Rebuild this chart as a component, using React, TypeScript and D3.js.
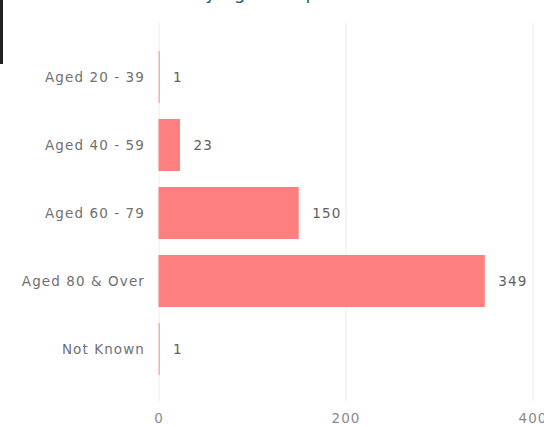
import React from "react";
import * as d3 from "d3";

const categories = ["Aged 20 - 39", "Aged 40 - 59", "Aged 60 - 79", "Aged 80 & Over", "Not Known"];
const values = [1, 23, 150, 349, 1];
const xTicks = [0, 200, 400];
const title = "Deaths by Age Group";

export default function App() {
  const W = 544, H = 427;
  const x = d3.scaleLinear().domain([0, 400]).range([159, 533]);
  const y = d3.scaleBand<string>().domain(categories).range([43, 383]).paddingInner(0.235).paddingOuter(0.1175);
  const font = "'DejaVu Sans', sans-serif";
  const fs = 13.5;
  const ls = 1.1;
  return (
    <svg width={W} height={H} style={{ position: "absolute", left: 0, top: 0, background: "#fff" }}>
      <rect x={0} y={0} width={3} height={64} fill="#222" />
      <text x={317} y={-1.5} textAnchor="end" fontFamily={font} fontSize={18} fill="#1f5f74">{title}</text>
      {xTicks.map(t => (
        <g key={t}>
          <line x1={x(t)} x2={x(t)} y1={23} y2={401} stroke="#ececec" strokeWidth={1} />
          <text x={x(t)} y={423} textAnchor="middle" fontFamily={font} fontSize={fs} letterSpacing={ls} fill="#8a8a8a">{t}</text>
        </g>
      ))}
      {categories.map((c, i) => {
        const yy = y(c)!;
        const bw = y.bandwidth();
        const w = Math.max(x(values[i]) - x(0), 1);
        return (
          <g key={c}>
            <rect x={x(0) - 0.5} y={yy} width={w + (values[i] < 5 ? 0.5 : 0)} height={bw} fill="#fd7f7f" opacity={values[i] < 5 ? 0.6 : 1} />
            <text x={x(0) - 14} y={yy + bw / 2} dy="0.35em" textAnchor="end" fontFamily={font} fontSize={fs} letterSpacing={ls} fill="#707070">{c}</text>
            <text x={x(0) + w + 13} y={yy + bw / 2} dy="0.35em" textAnchor="start" fontFamily={font} fontSize={fs} letterSpacing={ls} fill="#606060">{values[i]}</text>
          </g>
        );
      })}
    </svg>
  );
}
